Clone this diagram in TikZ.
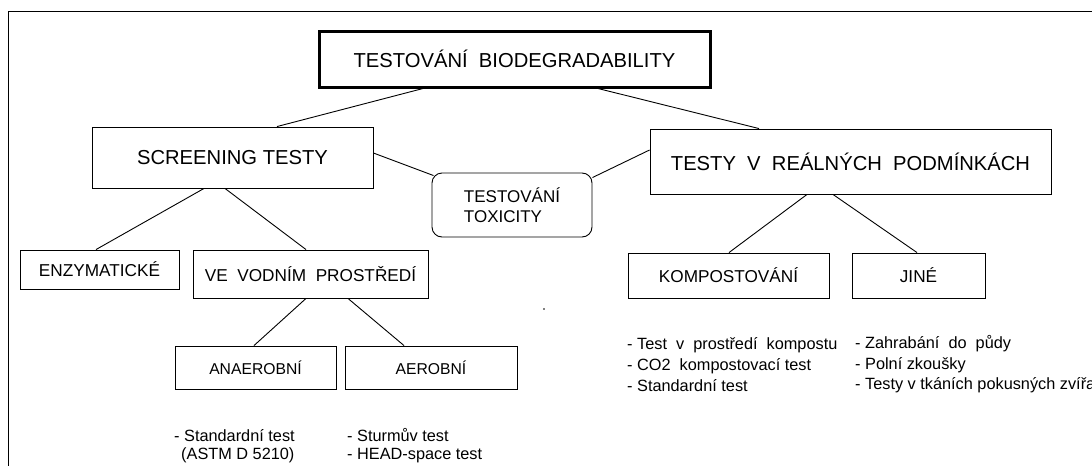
\documentclass[tikz,border=0pt]{standalone}
\usepackage{fontspec}
\setmainfont{Liberation Sans}
\begin{document}
\begin{tikzpicture}[x=1pt,y=-1pt,
  box/.style={draw, line width=0.9pt, inner sep=0pt, align=center, font=\fontsize{17.2}{20}\selectfont},
  bigbox/.style={box, font=\fontsize{20.2}{24}\selectfont},
  smallbox/.style={box, font=\fontsize{15.7}{19}\selectfont},
  conn/.style={line width=0.9pt},
  lst/.style={anchor=base west, inner sep=0pt, font=\fontsize{16.3}{19}\selectfont},
  frame/.style={line width=1.3pt}]
\useasboundingbox (0,0) rectangle (1092,466);
% frame
\coordinate (ftr) at (1092,11.5);
\coordinate (ftl) at (8.4,11.5);
\coordinate (fbl) at (8.4,466);
\draw[frame] (ftr) -- (ftl) -- (fbl);
% boxes
\node[bigbox, line width=3pt, minimum width=391pt, minimum height=56pt] (title) at (514.5,59) {TESTOVÁNÍ\ \ BIODEGRADABILITY};
\node[bigbox, minimum width=281pt, minimum height=61pt] (scr) at (232.5,157.5) {SCREENING TESTY};
\node[bigbox, minimum width=401pt, minimum height=65pt] (real) at (850.5,161.5) {TESTY\ \ V\ \ REÁLNÝCH\ \ PODMÍNKÁCH};
\node[box, rounded corners=10pt, align=left, minimum width=160pt, minimum height=64pt, font=\fontsize{17}{20}\selectfont] (tox) at (512,205) {TESTOVÁNÍ\\TOXICITY};
\node[box, minimum width=159pt, minimum height=39pt] (enz) at (99.5,269.5) {ENZYMATICKÉ};
\node[box, minimum width=235pt, minimum height=48pt] (ve) at (310.5,274) {VE\ \ VODNÍM\ \ PROSTŘEDÍ};
\node[smallbox, minimum width=161pt, minimum height=43pt] (anaer) at (255.5,367.5) {ANAEROBNÍ};
\node[smallbox, minimum width=172pt, minimum height=43pt] (aer) at (431,367.5) {AEROBNÍ};
\node[box, minimum width=201pt, minimum height=45pt] (komp) at (728.5,275.5) {KOMPOSTOVÁNÍ};
\node[box, minimum width=133pt, minimum height=45pt] (jine) at (918.5,275.5) {JINÉ};
% connectors
\draw[conn] ([xshift=-91.5pt]title.south) -- ([xshift=44.5pt]scr.north);
\draw[conn] ([xshift=83.5pt]title.south) -- ([xshift=-91.5pt]real.north);
\draw[conn] ([yshift=4.5pt]scr.east) -- ([xshift=2pt,yshift=-3pt]tox.north west);
\draw[conn] ([yshift=-5pt]tox.north east) -- ([yshift=11.5pt]real.west);
\draw[conn] ([xshift=-28.5pt]scr.south) -- ([xshift=-3.5pt]enz.north);
\draw[conn] ([xshift=-7.5pt]scr.south) -- ([xshift=-4.5pt]ve.north);
\draw[conn] ([xshift=-4.5pt]ve.south) -- ([xshift=-1.5pt]anaer.north);
\draw[conn] ([xshift=37.5pt]ve.south) -- ([xshift=-27pt]aer.north);
\draw[conn] ([xshift=-43.5pt]real.south) -- ([xshift=0.5pt]komp.north);
\draw[conn] ([xshift=-17.5pt]real.south) -- ([xshift=-1.5pt]jine.north);
% lists
\node[lst] (a1) at (174,441.5) {- Standardní test};
\node[lst] (a2) at (181,459.5) {(ASTM D 5210)};
\node[lst] (b1) at (347,441.5) {- Sturmův test};
\node[lst] (b2) at (347,459.5) {- HEAD-space test};
\node[lst] (c1) at (627,349.5) {- Test\ \ v\ \ prostředí\ \ kompostu};
\node[lst] (c2) at (627,370.5) {- CO2\ \ kompostovací test};
\node[lst] (c3) at (627,391.5) {- Standardní test};
\node[lst] (d1) at (855,348.5) {- Zahrabání\ \ do\ \ půdy};
\node[lst] (d2) at (855,369.5) {- Polní zkoušky};
\node[lst] (d3) at (855,389.5) {- Testy v tkáních pokusných zvířat};
% stray dot
\fill (544,309) circle (0.8pt);
\end{tikzpicture}
\end{document}
